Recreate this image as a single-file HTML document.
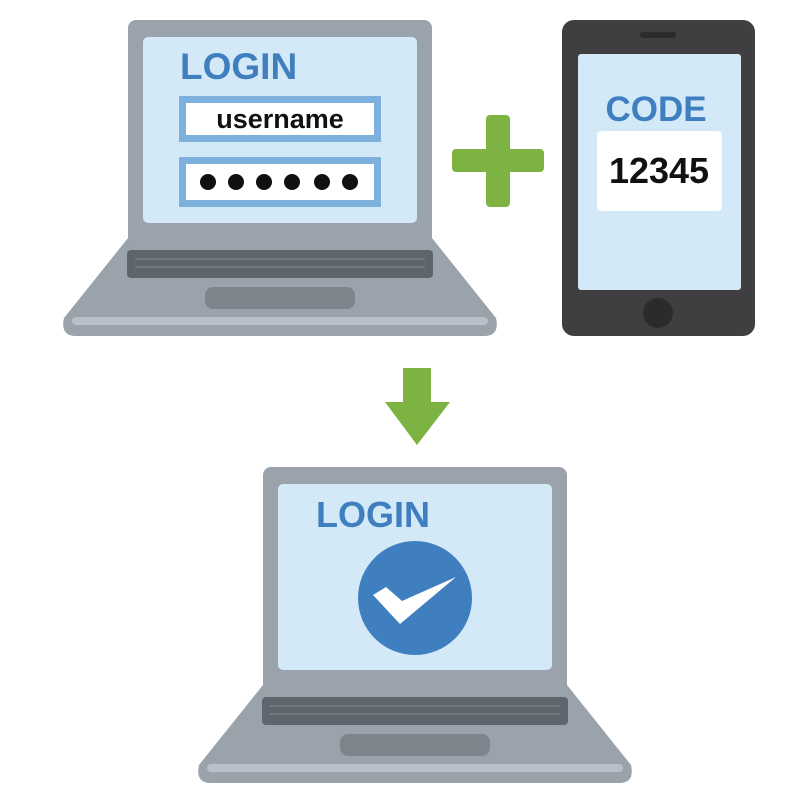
<!DOCTYPE html>
<html><head><meta charset="utf-8"><style>html,body{margin:0;padding:0;background:#fff}svg{display:block}</style></head>
<body>
<svg width="800" height="800" viewBox="0 0 800 800" xmlns="http://www.w3.org/2000/svg" font-family="'Liberation Sans','DejaVu Sans',sans-serif" font-weight="bold">
<defs>
<g id="laptop">
  <path d="M128,238 L432,238 L496,318 Q500,336 484,336 L76,336 Q60,336 64,318 Z" fill="#9aa2ab"/>
  <rect x="72" y="317" width="416" height="8" rx="4" fill="#b9c0c7"/>
  <rect x="128" y="20" width="304" height="226" rx="8" fill="#9aa2ab"/>
  <rect x="143" y="37" width="274" height="186" rx="5" fill="#d3e9f7"/>
  <rect x="127" y="250" width="306" height="28" rx="4" fill="#5f656c"/>
  <rect x="135" y="258" width="290" height="2" fill="#72787f"/>
  <rect x="135" y="266" width="290" height="2" fill="#72787f"/>
  <rect x="205" y="287" width="150" height="22" rx="8" fill="#7d848b"/>
</g>
</defs>
<use href="#laptop"/>
<text x="180" y="79" font-size="37" fill="#3f7fc0">LOGIN</text>
<rect x="179" y="96" width="202" height="46" fill="#7db0dd"/>
<rect x="186" y="103" width="188" height="32" fill="#fff"/>
<text x="280" y="128" font-size="27" fill="#111" text-anchor="middle">username</text>
<rect x="179" y="157" width="202" height="50" fill="#7db0dd"/>
<rect x="186" y="164" width="188" height="36" fill="#fff"/>
<g fill="#111"><circle cx="208" cy="182" r="8"/><circle cx="236" cy="182" r="8"/><circle cx="264" cy="182" r="8"/><circle cx="292" cy="182" r="8"/><circle cx="322" cy="182" r="8"/><circle cx="350" cy="182" r="8"/></g>
<g fill="#7cb342"><rect x="452" y="149" width="92" height="23" rx="4"/><rect x="486" y="115" width="24" height="92" rx="4"/></g>
<rect x="562" y="20" width="193" height="316" rx="12" fill="#3f3f41"/>
<rect x="640" y="32" width="36" height="6" rx="3" fill="#2b2b2c"/>
<rect x="578" y="54" width="163" height="236" rx="3" fill="#d3e9f7"/>
<circle cx="658" cy="313" r="15" fill="#2b2b2c"/>
<text x="656" y="121" font-size="35" fill="#3f7fc0" text-anchor="middle">CODE</text>
<rect x="597" y="131" width="125" height="80" rx="4" fill="#fff"/>
<text x="659" y="183" font-size="36" fill="#111" text-anchor="middle">12345</text>
<path d="M403,368 L431,368 L431,402 L450,402 L417,445 L385,402 L403,402 Z" fill="#7cb342"/>
<use href="#laptop" transform="translate(135,447)"/>
<text x="316" y="527" font-size="36" fill="#3f7fc0">LOGIN</text>
<circle cx="415" cy="598" r="57" fill="#3f7fc0"/>
<path d="M373,595 L386,587 L402,601 L456,577 L400,624 Z" fill="#fff"/>
</svg>
</body></html>
